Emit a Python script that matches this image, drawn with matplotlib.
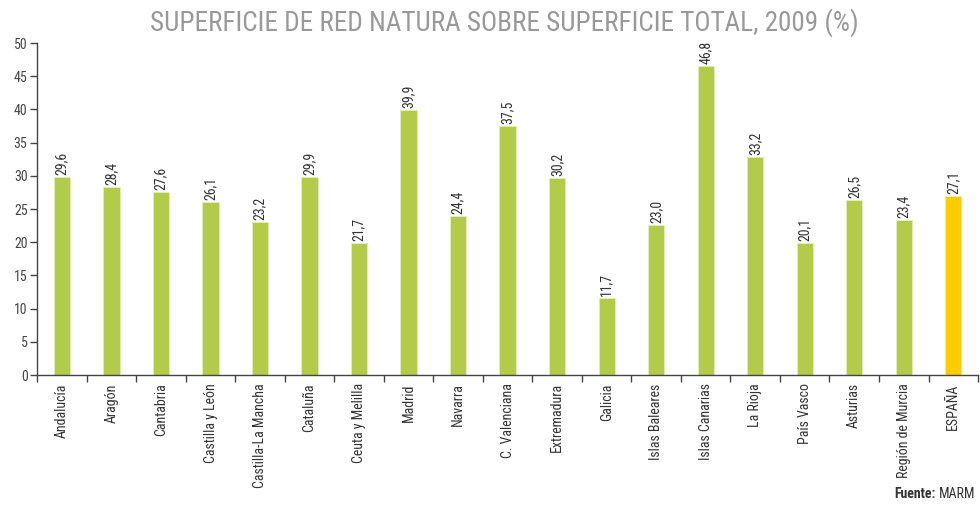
import matplotlib
matplotlib.use("Agg")
import matplotlib.pyplot as plt
from matplotlib import font_manager as fm
import numpy as np

fonts = fm.fontManager.ttflist
names = set(f.name for f in fonts)
stretch = "normal"
if "Roboto Condensed" in names:
    fam = "Roboto Condensed"
elif "Liberation Sans Narrow" in names:
    fam = "Liberation Sans Narrow"
elif any("DejaVuSansCondensed" in f.fname for f in fonts):
    fam = "DejaVu Sans"
    stretch = "condensed"
else:
    fam = "Roboto"
plt.rcParams['font.family'] = [fam, 'DejaVu Sans']
plt.rcParams['font.stretch'] = stretch

regions = ["Andalucía", "Aragón", "Cantabria", "Castilla y León", "Castilla-La Mancha",
           "Cataluña", "Ceuta y Melilla", "Madrid", "Navarra", "C. Valenciana",
           "Extremadura", "Galicia", "Islas Baleares", "Islas Canarias", "La Rioja",
           "País Vasco", "Asturias", "Región de Murcia", "ESPAÑA"]
bar_values = [29.8, 28.3, 27.6, 26.1, 23.0, 29.8, 19.9, 39.9, 23.9, 37.5,
              29.7, 11.6, 22.6, 46.5, 32.8, 19.9, 26.3, 23.3, 27.0]
value_labels = ["29,6", "28,4", "27,6", "26,1", "23,2", "29,9", "21,7", "39,9", "24,4", "37,5",
                "30,2", "11,7", "23,0", "46,8", "33,2", "20,1", "26,5", "23,4", "27,1"]
yticks = [0, 5, 10, 15, 20, 25, 30, 35, 40, 45, 50]

green = "#b3cb48"
yellow = "#ffcc00"
colors = [green] * (len(regions) - 1) + [yellow]

fig = plt.figure(figsize=(9.8, 5.05), dpi=100)
ax = fig.add_axes([0.038, 0.2574, 0.96, 0.6574])
x = np.arange(len(regions))
ax.bar(x, bar_values, width=0.33, color=colors, edgecolor="#e4eec0", linewidth=0.6, zorder=2)

for xi, v, lab in zip(x, bar_values, value_labels):
    ax.text(xi, v + 0.3, lab, rotation=90, ha="center", va="bottom",
            fontsize=10, color="#333333")

ax.set_xlim(-0.5, len(regions) - 0.5)
ax.set_ylim(0, 50)
ax.set_yticks(yticks)
ax.set_yticklabels([str(t) for t in yticks], fontsize=10, color="#444444")
ax.set_xticks(x)
ax.set_xticklabels(regions, rotation=90, fontsize=10, color="#333333")
ax.tick_params(axis="x", length=0, pad=6)
ax.set_xticks(np.arange(-0.5, len(regions) + 0.5, 1), minor=True)
ax.tick_params(axis="x", which="minor", length=5, color="#444444", width=1)
ax.tick_params(axis="y", length=5, color="#444444", width=1, pad=2)

for s in ["top", "right"]:
    ax.spines[s].set_visible(False)
for s in ["left", "bottom"]:
    ax.spines[s].set_color("#444444")
    ax.spines[s].set_linewidth(1)

fig.text(0.515, 0.955, "SUPERFICIE DE RED NATURA SOBRE SUPERFICIE TOTAL, 2009 (%)",
         ha="center", va="center", fontsize=19.5, color="#999999")

src = fig.text(0.995, 0.008, "MARM", ha="right", va="bottom", fontsize=10, color="#333333")
fig.canvas.draw()
bb = src.get_window_extent().transformed(fig.transFigure.inverted())
fig.text(bb.x0 - 0.003, 0.008, "Fuente:", ha="right", va="bottom", fontsize=10,
         color="#333333", fontweight="bold")

fig.savefig("out.png", dpi=100)
